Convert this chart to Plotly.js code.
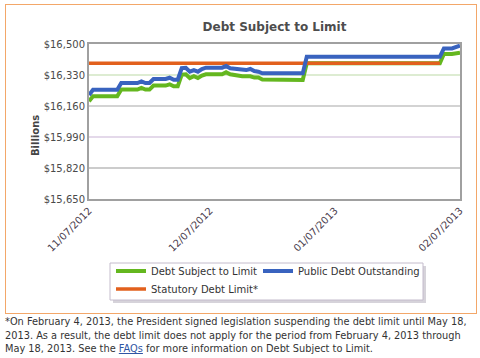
<!DOCTYPE html>
<html>
<head>
<meta charset="utf-8">
<script src="https://cdn.plot.ly/plotly-3.0.1.min.js"></script>
<style>
  html, body { margin: 0; padding: 0; background: #fff; width: 480px; height: 358px; overflow: hidden; }
  #frame { position: absolute; left: 5px; top: 4px; width: 470px; height: 308px; border: 1px solid #f3a769; z-index: 0; }
  #chart { position: absolute; left: 0; top: 0; width: 480px; height: 340px; z-index: 1; }
  #note { position: absolute; left: 5px; top: 315px; width: 472px; font-family: "DejaVu Sans", Verdana, sans-serif;
          font-size: 9.8px; line-height: 13.5px; color: #333; white-space: nowrap; z-index: 2; }
  #note a { color: #2f55a4; text-decoration: underline; }
</style>
</head>
<body>
<div id="frame"></div>
<div id="chart"></div>
<div id="note">*On February 4, 2013, the President signed legislation suspending the debt limit until May 18,<br>2013. As a result, the debt limit does not apply for the period from February 4, 2013 through<br>May 18, 2013. See the <a href="#">FAQs</a> for more information on Debt Subject to Limit.</div>
<script>
// ---- data ----
var dates = ['2012-11-07','2012-11-08','2012-11-14','2012-11-15','2012-11-19','2012-11-20','2012-11-21','2012-11-22',
  '2012-11-23','2012-11-26','2012-11-27','2012-11-28','2012-11-29','2012-11-30','2012-12-01','2012-12-02',
  '2012-12-03','2012-12-04','2012-12-05','2012-12-06','2012-12-10','2012-12-11','2012-12-12','2012-12-14',
  '2012-12-15','2012-12-16','2012-12-17','2012-12-18','2012-12-19','2012-12-20','2012-12-30','2012-12-31',
  '2013-02-02','2013-02-03','2013-02-05','2013-02-07'];
var publicDebt = [16220,16249,16249,16286,16286,16295,16286,16286,16308,16308,16315,16304,16304,16368,16370,16348,
  16357,16348,16363,16370,16370,16379,16367,16363,16363,16357,16363,16352,16348,16339,16339,16430,
  16430,16476,16476,16491];
var debtSubject = [16186,16213,16213,16250,16250,16259,16250,16250,16272,16272,16279,16268,16268,16332,16334,16313,
  16323,16313,16327,16334,16334,16345,16334,16323,16323,16323,16323,16316,16316,16305,16303,16394,
  16394,16445,16445,16452];
var limitDates = ['2012-11-07','2013-02-02'];
var statutoryLimit = [16394, 16394];
var yTicks = [15650, 15820, 15990, 16160, 16330, 16500];
var yTickText = ['$15,650','$15,820','$15,990','$16,160','$16,330','$16,500'];
var xTicks = ['2012-11-07','2012-12-07','2013-01-07','2013-02-07'];
var xTickText = ['11/07/2012','12/07/2012','01/07/2013','02/07/2013'];
var seriesNames = ['Debt Subject to Limit','Public Debt Outstanding','Statutory Debt Limit*'];

// ---- styling / layout helpers ----
var gridColors = ['rgba(0,0,0,0)', '#9a9a9a', '#c9b3d6', '#a8a8a8', '#bcd9a6', 'rgba(0,0,0,0)'];
var FONT = '"DejaVu Sans", Verdana, sans-serif';
var H = 340, TOP = 44, BOTTOM_PX = 199, LEFT = 89, PW = 371, PH = BOTTOM_PX - TOP;
function px(xp) { return (xp - LEFT) / PW; }
function py(yp) { return (BOTTOM_PX - yp) / PH; }

var traces = [
  {x: dates, y: debtSubject, name: seriesNames[0], type: 'scatter', mode: 'lines',
   line: {color: '#64b71f', width: 4}, legend: 'legend'},
  {x: limitDates, y: statutoryLimit, name: seriesNames[2], type: 'scatter', mode: 'lines',
   line: {color: '#e2601d', width: 3.5}, legend: 'legend3'},
  {x: dates, y: publicDebt, name: seriesNames[1], type: 'scatter', mode: 'lines',
   line: {color: '#3963bf', width: 4}, legend: 'legend2'}
];

var shapes = yTicks.map(function (v, i) {
  return {type: 'line', xref: 'paper', x0: 0, x1: 1, yref: 'y', y0: v, y1: v,
          line: {color: gridColors[i], width: 1.2}, layer: 'below'};
});
// legend box with soft shadow
shapes.push({type: 'rect', xref: 'paper', yref: 'paper', x0: px(113), x1: px(426), y0: py(266), y1: py(303),
             fillcolor: '#d6d3da', line: {width: 0}, layer: 'below'});
shapes.push({type: 'rect', xref: 'paper', yref: 'paper', x0: px(110), x1: px(423), y0: py(263), y1: py(300),
             fillcolor: '#ffffff', line: {color: '#c4bccc', width: 1}, layer: 'below'});

function leg(xLeft, yCenter) {
  return {orientation: 'v', x: px(xLeft), xanchor: 'left', y: py(yCenter), yanchor: 'middle',
          bgcolor: 'rgba(0,0,0,0)', borderwidth: 0, itemwidth: 30,
          font: {family: FONT, size: 10, color: '#333'}};
}

var layout = {
  width: 480, height: H,
  margin: {l: LEFT, r: 480 - LEFT - PW, t: TOP, b: H - BOTTOM_PX, autoexpand: false},
  paper_bgcolor: 'rgba(0,0,0,0)', plot_bgcolor: '#fff',
  font: {family: FONT, size: 10, color: '#444'},
  title: {text: '<b>Debt Subject to Limit</b>', font: {family: FONT, size: 12, color: '#4d4d4d'},
          xref: 'paper', x: 0.5, xanchor: 'center', yref: 'container', y: 1 - 27/H, yanchor: 'middle'},
  xaxis: {type: 'date', range: ['2012-11-07', '2013-02-07'], tickvals: xTicks, ticktext: xTickText,
          tickangle: -45, tickfont: {size: 10, color: '#4a3d4d'}, showgrid: false, zeroline: false,
          showline: true, mirror: true, linecolor: '#a0a0a0', linewidth: 2, ticks: '', fixedrange: true},
  yaxis: {range: [15650, 16500], tickvals: yTicks, ticktext: yTickText, showgrid: false,
          zeroline: false, showline: true, mirror: true, linecolor: '#a0a0a0', linewidth: 2,
          tickfont: {size: 10, color: '#4a4a4a'}, ticks: '', fixedrange: true},
  shapes: shapes,
  annotations: [{text: '<b>Billions</b>', textangle: -90, xref: 'paper', yref: 'paper',
                 x: px(28), y: py(158), showarrow: false,
                 font: {family: FONT, size: 10, color: '#444'}}],
  showlegend: true,
  legend: leg(111, 271),
  legend2: leg(258, 271),
  legend3: leg(111, 289)
};

Plotly.newPlot('chart', traces, layout, {displayModeBar: false, staticPlot: true});
</script>
</body>
</html>
